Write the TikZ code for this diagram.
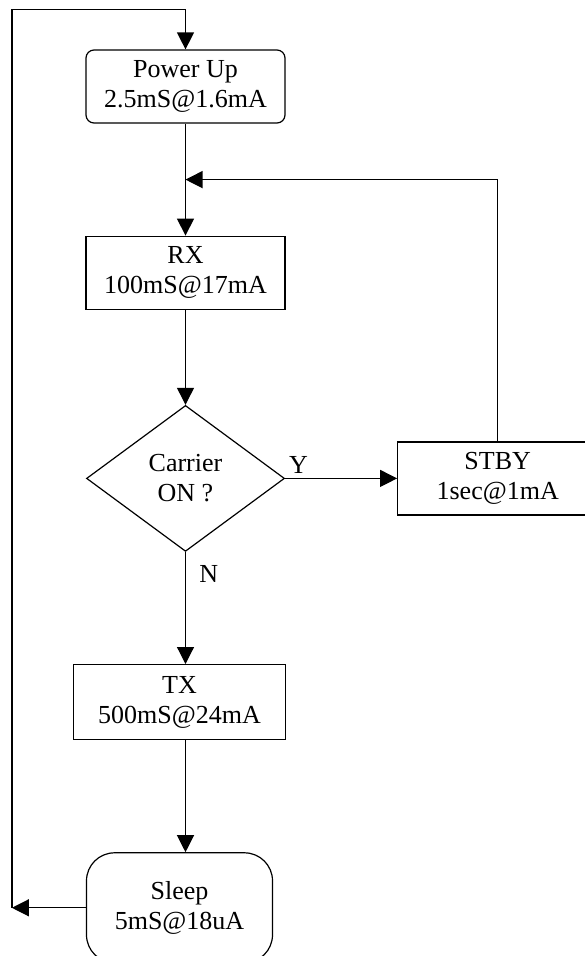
\documentclass[tikz,border=0pt]{standalone}
\usepackage{fontspec}
\setmainfont{Liberation Serif}
\usetikzlibrary{positioning,shapes.geometric,arrows.meta,calc}

\begin{document}
\begin{tikzpicture}[
  x=1pt,y=-1pt,
  every node/.style={font=\fontsize{26pt}{30pt}\selectfont},
  block/.style={rectangle,draw,line width=1.2pt,align=center,minimum width=199pt,minimum height=73pt,inner sep=0pt},
  roundblock/.style={block,rounded corners=8pt},
  decision/.style={diamond,draw,line width=1.2pt,align=center,aspect=1.36,minimum width=198pt,minimum height=146pt,inner sep=0pt},
  sleepblock/.style={block,rounded corners=28pt,minimum width=186pt,minimum height=110pt},
  >={Triangle[length=17pt,width=17pt]},
  line width=1.2pt
]
\useasboundingbox (0,0) rectangle (585,956);
\clip (0,0) rectangle (585,956);

% MAIN CHAIN
\node[roundblock] (PU) at (185.5,86.5) {Power Up\\2.5mS@1.6mA};
\node[block] (RX) [below=112pt of PU] {RX\\100mS@17mA};
\node[decision] (Q) [below=95pt of RX] {Carrier\\ON ?};

% STANDBY
\node[block,minimum width=200pt] (SB) [right=112pt of Q] {STBY\\1sec@1mA};

% TRANSMIT AND SLEEP
\node[block,minimum width=212pt,minimum height=75pt] (TX) [below=112pt of Q,xshift=-6pt] {TX\\500mS@24mA};
\node[sleepblock] (S) [below=112pt of TX] {Sleep\\5mS@18uA};

\draw[->] (PU) -- (RX);
\draw[->] (RX) -- (Q);
\draw[->] (Q.east) -- node[pos=0.12,above=1pt] {Y} (SB.west);
\draw[->] (Q.south) -- node[pos=0.2,right=10pt] {N} (Q.south |- TX.north);
\draw[->] (Q.south |- TX.south) -- (Q.south |- S.north);

% FEEDBACK FROM STBY
\coordinate (F) at ($(PU.south)!0.5!(RX.north)$);
\draw[->] (SB.north) |- (F);

% LOOP BACK TO POWER UP
\coordinate (L) at ([xshift=-74pt]S.west);
\coordinate (T) at ([yshift=40pt]PU.north);
\draw[->] (S.west) -- (L);
\draw[->] (L) |- (T) -- (PU.north);

\end{tikzpicture}
\end{document}
